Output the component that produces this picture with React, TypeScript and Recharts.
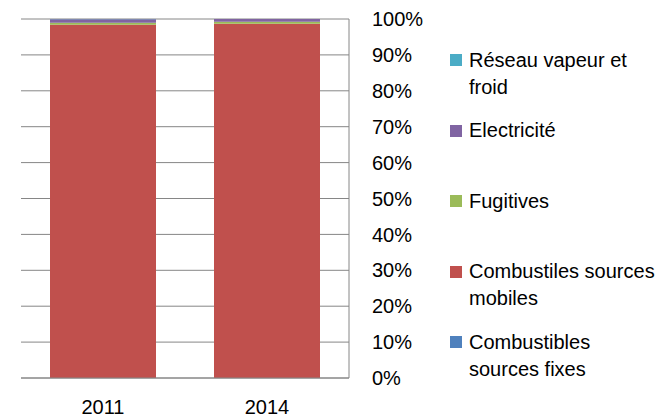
import React from "react";
import { BarChart, Bar, XAxis, YAxis, CartesianGrid, Legend } from "recharts";

const categories = ["2011", "2014"];
const fixes = [0, 0];
const mobiles = [98.4, 98.7];
const fugitives = [0.55, 0.55];
const electricite = [1.0, 0.75];
const reseau = [0.05, 0.0];
const yTicks = [0, 0.1, 0.2, 0.3, 0.4, 0.5, 0.6, 0.7, 0.8, 0.9, 1];

const seriesNames = [
  "Combustibles sources fixes",
  "Combustiles sources mobiles",
  "Fugitives",
  "Electricité",
  "Réseau vapeur et froid",
];
const seriesKeys = ["fixes", "mobiles", "fugitives", "electricite", "reseau"];
const seriesColors = ["#4F81BD", "#C0504D", "#9BBB59", "#8064A2", "#4BACC6"];

const data = categories.map((c, i) => ({
  year: c,
  fixes: fixes[i],
  mobiles: mobiles[i],
  fugitives: fugitives[i],
  electricite: electricite[i],
  reseau: reseau[i],
}));

const FONT = "'Liberation Sans', Arial, sans-serif";

const LegendContent = (props: any) => {
  const payload = (props.payload || [])
    .slice()
    .sort((a: any, b: any) => seriesNames.indexOf(b.value) - seriesNames.indexOf(a.value));
  return (
    <div style={{ position: "relative", width: 0, height: 0 }}>
      {payload.map((p: any, i: number) => (
        <div
          key={p.value}
          style={{
            position: "absolute",
            left: 450,
            top: 46.5 + i * 70.5,
            width: 212,
            fontFamily: FONT,
            fontSize: 20,
            lineHeight: "27px",
            color: "#000",
          }}
        >
          <div
            style={{
              position: "absolute",
              left: 0,
              top: 7.5,
              width: 12,
              height: 12,
              background: p.color,
            }}
          />
          <div style={{ marginLeft: 19, width: 193 }}>{p.value}</div>
        </div>
      ))}
    </div>
  );
};

export default function App() {
  return (
    <div style={{ position: "absolute", left: 0, top: 0, width: 662, height: 417, background: "#fff" }}>
      <BarChart
        width={662}
        height={417}
        data={data}
        stackOffset="expand"
        margin={{ top: 19, right: 253, bottom: 0, left: 21 }}
        barCategoryGap={29}
      >
        <CartesianGrid vertical={false} stroke="#868686" strokeWidth={1} />
        <XAxis
          dataKey="year"
          height={39}
          axisLine={{ stroke: "#868686" }}
          tickLine={false}
          tickSize={0}
          tickMargin={22}
          tick={{ fill: "#000", fontSize: 20, fontFamily: FONT }}
        />
        <YAxis
          orientation="right"
          width={60}
          domain={[0, 1]}
          ticks={yTicks}
          interval={0}
          axisLine={{ stroke: "#868686" }}
          tickLine={false}
          tickSize={0}
          tickMargin={23}
          tickFormatter={(v: number) => `${Math.round(v * 100)}%`}
          tick={{ fill: "#000", fontSize: 20, fontFamily: FONT }}
        />
        <Legend
          content={LegendContent}
          wrapperStyle={{ position: "absolute", left: 0, top: 0, width: 0, height: 0 }}
        />
        {seriesKeys.map((k, i) => (
          <Bar
            key={k}
            dataKey={k}
            name={seriesNames[i]}
            stackId="a"
            fill={seriesColors[i]}
            isAnimationActive={false}
          />
        ))}
      </BarChart>
    </div>
  );
}
